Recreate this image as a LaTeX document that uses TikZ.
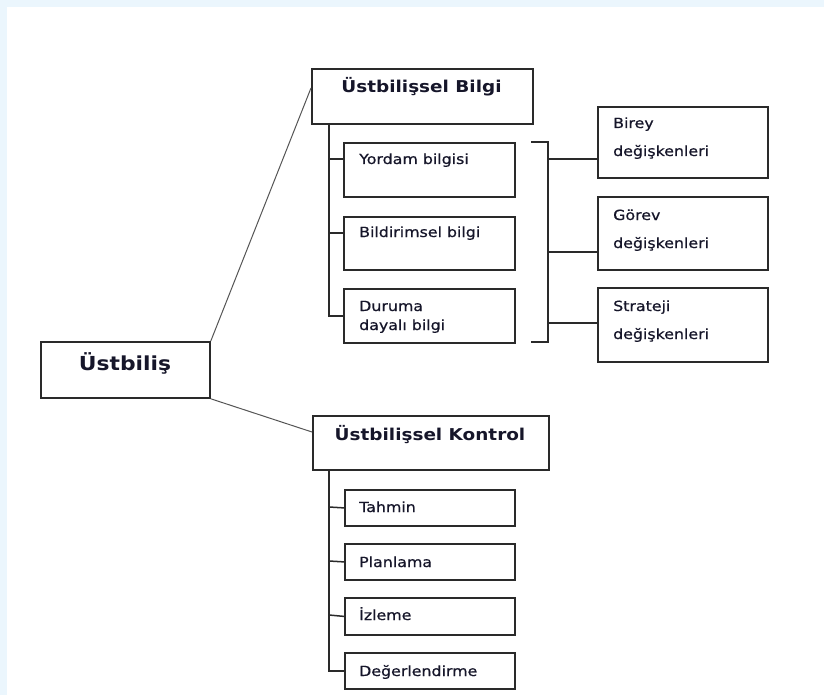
\documentclass[tikz,border=0pt]{standalone}
\usepackage{fontspec}
\setmainfont{DejaVu Sans}[FakeStretch=1.13]
\newfontfamily\bodyfont{DejaVu Sans}[FakeStretch=1.13,FakeBold=0.6]
\definecolor{bandblue}{HTML}{EBF6FD}
\definecolor{ink}{HTML}{16162A}
\definecolor{edge}{HTML}{2A2A2A}
\definecolor{diag}{HTML}{555555}
\begin{document}
\begin{tikzpicture}[x=1pt,y=-1pt,
  box/.style={draw=edge,line width=1.8pt,rectangle,inner sep=0pt,anchor=north west},
  txt/.style={text=ink,inner sep=0pt,anchor=base west,font=\bodyfont\fontsize{14}{28}\selectfont},
  ttl/.style={text=ink,inner sep=0pt,anchor=base,font=\bfseries\fontsize{16.3}{20}\selectfont},
  conn/.style={draw=edge,line width=1.5pt},
  dline/.style={draw=diag,line width=1pt}]
\useasboundingbox (0,0) rectangle (824,695);
\fill[white] (0,0) rectangle (824,695);
\fill[bandblue] (0,0) rectangle (824,7);
\fill[bandblue] (0,0) rectangle (7,695);
% main boxes
\node[box,minimum width=169pt,minimum height=56pt] (U) at (40,341) {};
\node[text=ink,inner sep=0pt,anchor=base,font=\bfseries\fontsize{19.3}{22}\selectfont] (Ut) at (125,370) {Üstbiliş};
\node[box,minimum width=221pt,minimum height=55pt] (B) at (311,68) {};
\node[ttl] (Bt) at (421.5,93) {Üstbilişsel Bilgi};
\node[box,minimum width=236pt,minimum height=54pt] (K) at (312,415) {};
\node[ttl] (Kt) at (430,440) {Üstbilişsel Kontrol};
% bilgi children
\node[box,minimum width=171pt,minimum height=54pt] (Y) at (343,142) {};
\node[txt] (Yt) at (359,164) {Yordam bilgisi};
\node[box,minimum width=171pt,minimum height=53pt] (D) at (343,216) {};
\node[txt] (Dt) at (359,237) {Bildirimsel bilgi};
\node[box,minimum width=171pt,minimum height=54pt] (S) at (343,288) {};
\node[txt,font=\bodyfont\fontsize{14}{19}\selectfont,align=left] (St) at (359,330) {Duruma\\dayalı bilgi};
% variable boxes
\node[box,minimum width=170pt,minimum height=71pt] (V1) at (597,106) {};
\node[txt,align=left] (V1t) at (613,156) {Birey\\değişkenleri};
\node[box,minimum width=170pt,minimum height=73pt] (V2) at (597,196) {};
\node[txt,align=left] (V2t) at (613,248) {Görev\\değişkenleri};
\node[box,minimum width=170pt,minimum height=74pt] (V3) at (597,287) {};
\node[txt,align=left] (V3t) at (613,339) {Strateji\\değişkenleri};
% kontrol children
\node[box,minimum width=170pt,minimum height=36pt] (C1) at (344,489) {};
\node[txt] (C1t) at (359,512) {Tahmin};
\node[box,minimum width=170pt,minimum height=36pt] (C2) at (344,543) {};
\node[txt] (C2t) at (359,567) {Planlama};
\node[box,minimum width=170pt,minimum height=37pt] (C3) at (344,597) {};
\node[txt] (C3t) at (359,620) {İzleme};
\node[box,minimum width=170pt,minimum height=36pt] (C4) at (344,652) {};
\node[txt] (C4t) at (359,676) {Değerlendirme};
% diagonal links
\coordinate (Bin) at (311,88);
\coordinate (Kin) at (312,432);
\draw[dline] (U.north east) -- (Bin);
\draw[dline] (U.south east) -- (Kin);
% bilgi tree
\coordinate (bt) at (329,123);
\draw[conn] (bt) |- (S.west);
\draw[conn] (329,159) -- (Y.west |- 0,159);
\draw[conn] (329,233) -- (D.west |- 0,233);
% bracket
\coordinate (br1) at (531,142);
\coordinate (br2) at (548,142);
\coordinate (br3) at (548,342);
\coordinate (br4) at (531,342);
\draw[conn] (br1) -- (br2) -- (br3) -- (br4);
\draw[conn] (548,159) -- (V1.west |- 0,159);
\draw[conn] (548,252) -- (V2.west |- 0,252);
\draw[conn] (548,323) -- (V3.west |- 0,323);
% kontrol tree
\coordinate (kt) at (329,469);
\draw[conn] (kt) |- (C4.west);
\draw[conn] (329,507) -- (C1.west);
\draw[conn] (329,561) -- (C2.west);
\draw[conn] (329,615) -- (C3.west);
\end{tikzpicture}
\end{document}
